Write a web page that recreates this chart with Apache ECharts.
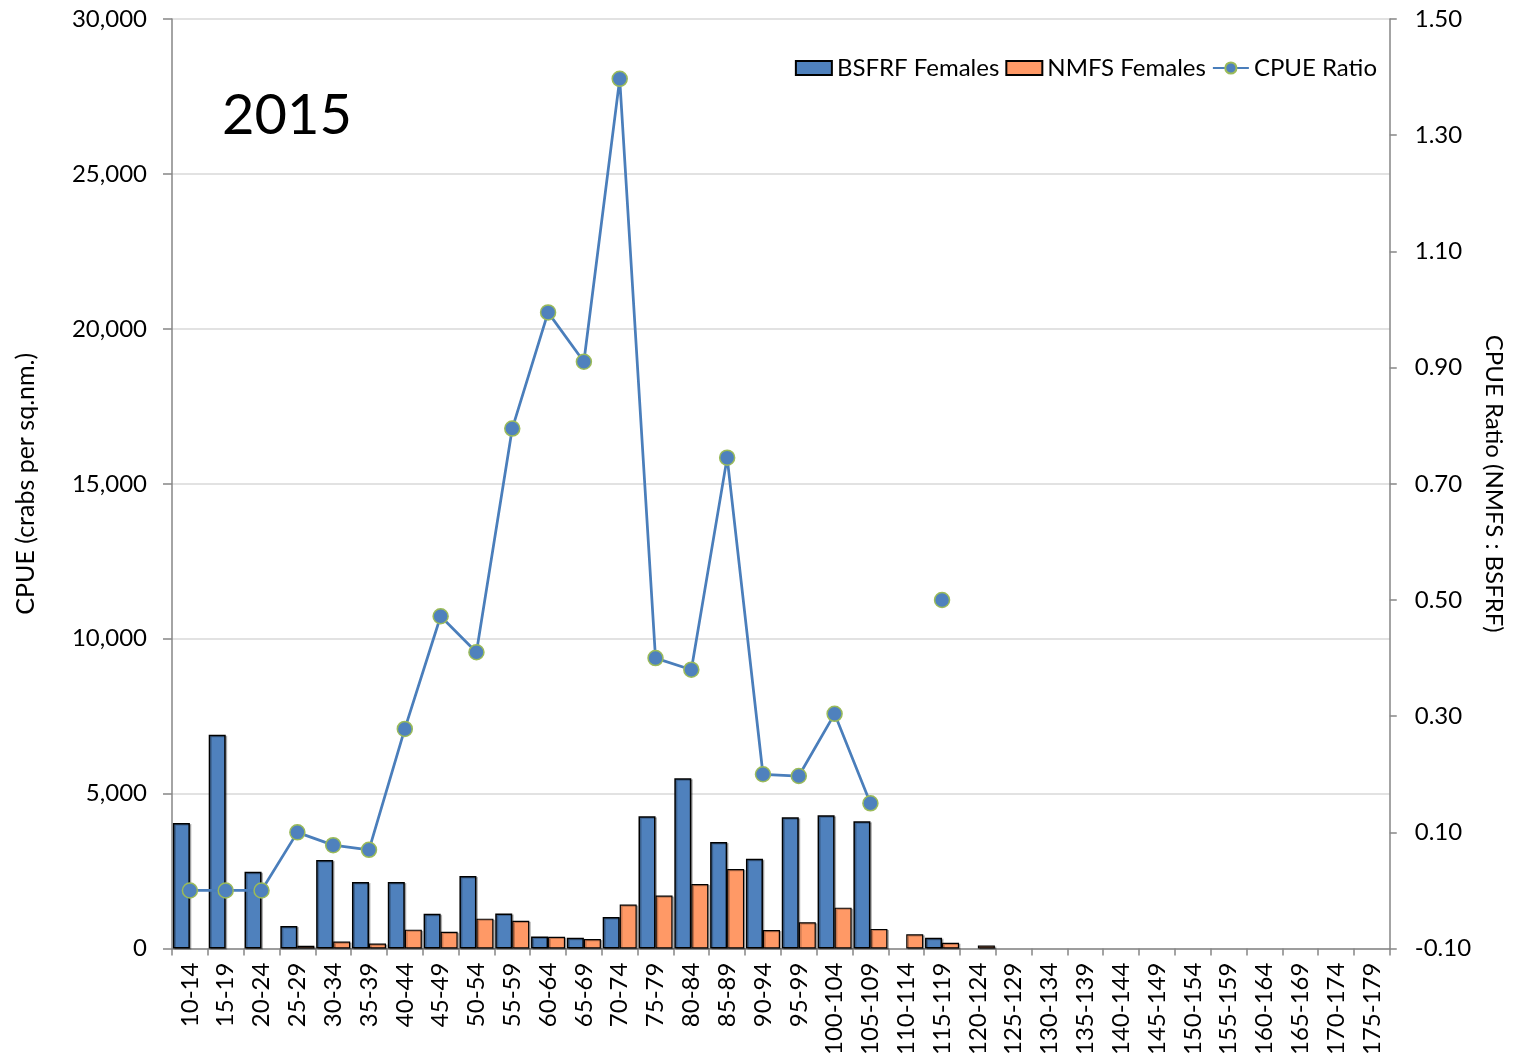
<!DOCTYPE html>
<html>
<head>
<meta charset="utf-8">
<script src="https://cdn.jsdelivr.net/npm/echarts@6/dist/echarts.min.js"></script>
<style>
  html, body { margin: 0; padding: 0; background: #fff; overflow: hidden; }
  #chart { width: 1514px; height: 1058px; }
</style>
</head>
<body>
<div id="chart"></div>
<script>
// Carapace width bins (mm)
const sizeBins = [
  '10-14','15-19','20-24','25-29','30-34','35-39','40-44','45-49','50-54','55-59',
  '60-64','65-69','70-74','75-79','80-84','85-89','90-94','95-99','100-104','105-109',
  '110-114','115-119','120-124','125-129','130-134','135-139','140-144','145-149','150-154','155-159',
  '160-164','165-169','170-174','175-179'
];

// CPUE (crabs per sq.nm.), BSFRF survey females
const bsfrfFemales = [
  4050, 6900, 2480, 730, 2860, 2150, 2150, 1120, 2340, 1130,
  390, 345, 1020, 4270, 5500, 3440, 2900, 4240, 4300, 4110,
  null, 345, null, null, null, null, null, null, null, null,
  null, null, null, null
];

// CPUE (crabs per sq.nm.), NMFS survey females
const nmfsFemales = [
  null, null, null, 90, 225, 160, 610, 540, 965, 900,
  380, 310, 1420, 1710, 2085, 2570, 600, 850, 1320, 635,
  460, 185, 95, null, null, null, null, null, null, null,
  null, null, null, null
];

// CPUE ratio (NMFS : BSFRF)
const cpueRatio = [
  0, 0, 0, 0.10, 0.078, 0.07, 0.278, 0.472, 0.41, 0.795,
  0.995, 0.91, 1.397, 0.40, 0.38, 0.745, 0.20, 0.197, 0.304, 0.15,
  null, 0.50, null, null, null, null, null, null, null, null,
  null, null, null, null
];

// Tick values of the ratio axis
const ratioTicks = [-0.1, 0.1, 0.3, 0.5, 0.7, 0.9, 1.1, 1.3, 1.5];

const FONT = 'Lato';
const axisGrey = '#868686';

const chart = echarts.init(document.getElementById('chart'), null, { renderer: 'canvas' });

chart.setOption({
  animation: false,
  backgroundColor: '#ffffff',
  textStyle: { fontFamily: FONT, color: '#000' },
  grid: { left: 172, right: 121, top: 19, bottom: 108, containLabel: false },
  graphic: [{
    type: 'text',
    left: 222,
    top: 88,
    style: { text: '2015', font: '56px ' + FONT, fill: '#000' }
  }],
  legend: {
    right: 132,
    top: 51,
    itemWidth: 36,
    itemHeight: 14,
    itemGap: 6,
    textStyle: { fontFamily: FONT, fontSize: 24, color: '#000' },
    data: [
      { name: 'BSFRF Females', icon: 'rect' },
      { name: 'NMFS Females', icon: 'rect' },
      { name: 'CPUE Ratio' }
    ]
  },
  xAxis: {
    type: 'category',
    data: sizeBins,
    boundaryGap: true,
    axisLine: { lineStyle: { color: axisGrey, width: 1.5 } },
    axisTick: { show: true, length: 7, lineStyle: { color: axisGrey, width: 1.5 } },
    axisLabel: {
      interval: 0,
      rotate: 90,
      margin: 14,
      fontFamily: FONT,
      fontSize: 24,
      color: '#000'
    },
    splitLine: { show: false }
  },
  yAxis: [
    {
      type: 'value',
      position: 'left',
      min: 0,
      max: 30000,
      interval: 5000,
      name: 'CPUE (crabs per sq.nm.)',
      nameLocation: 'middle',
      nameRotate: 90,
      nameGap: 134,
      nameTextStyle: { fontFamily: FONT, fontSize: 25, color: '#000' },
      axisLine: { show: true, lineStyle: { color: axisGrey, width: 1.5 } },
      axisTick: { show: true, inside: false, length: 9, lineStyle: { color: axisGrey, width: 1.5 } },
      axisLabel: {
        margin: 25,
        fontFamily: FONT,
        fontSize: 24,
        color: '#000',
        formatter: v => v.toLocaleString('en-US')
      },
      splitLine: { show: true, lineStyle: { color: '#d9d9d9', width: 1.5 } }
    },
    {
      type: 'value',
      position: 'right',
      min: -0.1,
      max: 1.5,
      name: 'CPUE Ratio (NMFS : BSFRF)',
      nameLocation: 'middle',
      nameRotate: -90,
      nameGap: 91,
      nameTextStyle: { fontFamily: FONT, fontSize: 24, color: '#000' },
      axisLine: { show: true, lineStyle: { color: axisGrey, width: 1.5 } },
      axisTick: { show: true, length: 7, customValues: ratioTicks, lineStyle: { color: axisGrey, width: 1.5 } },
      axisLabel: {
        margin: 25,
        fontFamily: FONT,
        fontSize: 24,
        color: '#000',
        customValues: ratioTicks,
        formatter: v => v.toFixed(2)
      },
      splitLine: { show: false }
    }
  ],
  series: [
    {
      name: 'BSFRF Females',
      type: 'bar',
      yAxisIndex: 0,
      data: bsfrfFemales,
      barGap: '0%',
      barCategoryGap: '5%',
      itemStyle: {
        color: '#4f81bd',
        borderColor: '#000',
        borderWidth: 1.5,
        shadowColor: 'rgba(0,0,0,0.25)',
        shadowOffsetX: 1.5,
        shadowOffsetY: 1
      }
    },
    {
      name: 'NMFS Females',
      type: 'bar',
      yAxisIndex: 0,
      data: nmfsFemales,
      barGap: '0%',
      barCategoryGap: '5%',
      itemStyle: {
        color: '#ff9966',
        borderColor: '#000',
        borderWidth: 1.2,
        shadowColor: 'rgba(0,0,0,0.25)',
        shadowOffsetX: 1.5,
        shadowOffsetY: 1
      }
    },
    {
      name: 'CPUE Ratio',
      type: 'line',
      yAxisIndex: 1,
      data: cpueRatio,
      connectNulls: false,
      z: 5,
      symbol: 'circle',
      symbolSize: 15,
      showAllSymbol: true,
      lineStyle: { color: '#4a7ebb', width: 2.75 },
      itemStyle: { color: '#4f81bd', borderColor: '#9bbb59', borderWidth: 1.5 }
    }
  ]
});
</script>
</body>
</html>
